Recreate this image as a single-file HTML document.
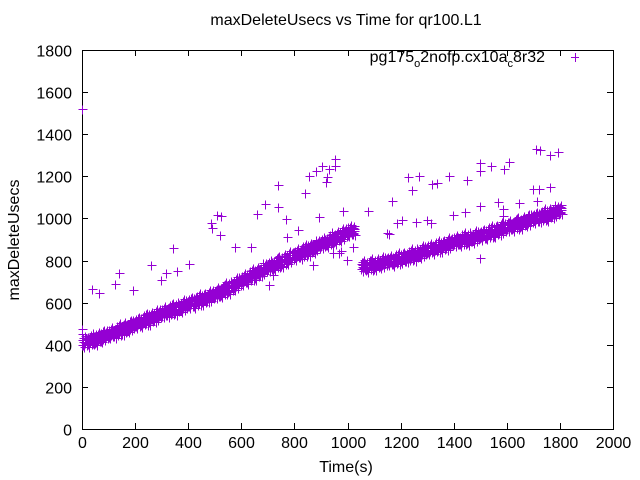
<!DOCTYPE html>
<html><head><meta charset="utf-8"><style>
html,body{margin:0;padding:0;background:#fff;}
svg{display:block;font-family:"Liberation Sans",sans-serif;}
</style></head><body>
<svg id="chart" width="640" height="480" viewBox="0 0 640 480" xmlns="http://www.w3.org/2000/svg">
<rect x="0" y="0" width="640" height="480" fill="#fff"/>
<text x="346" y="25" font-size="16" text-anchor="middle">maxDeleteUsecs vs Time for qr100.L1</text>
<text x="346" y="472" font-size="16" text-anchor="middle">Time(s)</text>
<text transform="translate(19,240) rotate(-90)" font-size="16" text-anchor="middle">maxDeleteUsecs</text>
<g id="axes"></g>
<g id="points"></g>
<g>
<text x="545" y="62" font-size="16" text-anchor="end">pg175<tspan font-size="11" dy="5">o</tspan><tspan dy="-5">2nofp.cx10a</tspan><tspan font-size="11" dy="5">c</tspan><tspan dy="-5">8r32</tspan></text>
<path d="M571 57.5h8M575.5 53v9" stroke="#9400d3" stroke-width="1"/>
</g>
</svg>
<script>
const xTicks=[0,200,400,600,800,1000,1200,1400,1600,1800,2000];
const yTicks=[0,200,400,600,800,1000,1200,1400,1600,1800];
const timesA=[];for(let t=0;t<=1020;t+=10)timesA.push(t);
const timesB=[];for(let t=1050;t<=1800;t+=10)timesB.push(t);
const seg1Upper=[424,434,427,439,450,441,452,446,464,461,
464,475,469,482,494,486,498,493,512,510,
514,525,519,532,544,536,548,543,562,560,
564,575,568,581,592,584,595,590,608,606,
609,620,613,626,637,629,640,635,653,651,
654,667,662,677,690,684,697,694,714,714,
719,732,727,742,755,749,762,759,779,779,
784,796,790,804,816,809,821,817,836,835,
839,851,845,859,871,864,876,872,891,890,
894,906,900,914,926,919,931,927,946,945,
949,961,955];
const seg1Lower=[398,407,399,412,410,408,425,420,429,440,
438,448,441,455,454,453,471,467,477,489,
488,498,491,505,504,503,521,517,527,539,
538,548,540,554,552,551,568,564,573,585,
583,593,585,599,597,596,613,609,618,630,
628,640,634,650,650,651,670,668,679,693,
693,705,699,715,715,716,735,733,744,758,
758,769,762,777,776,776,794,791,801,814,
813,824,817,832,831,831,849,846,856,869,
868,879,872,887,886,886,904,901,911,924,
923,934,927];
const seg2Upper=[784,793,784,795,805,794,804,797,813,809,811,819,811,822,831,
824,834,827,839,850,841,852,846,864,861,
864,874,867,879,890,881,892,886,904,901,
904,913,905,916,926,916,926,919,936,932,
934,944,937,949,960,951,962,956,974,971,
974,984,977,989,1000,991,1002,996,1014,1011,
1014,1024,1017,1029,1040,1031,1042,1036,1054,1051,1054];
const seg2Lower=[758,766,756,768,765,761,777,771,778,788,785,792,783,795,791,
798,807,799,812,810,808,825,820,829,840,
838,847,840,852,850,848,865,860,869,880,
878,886,877,889,886,883,899,893,901,911,
908,917,909,922,920,918,935,930,939,950,
948,957,949,962,960,958,975,970,979,990,
988,997,989,1002,1000,998,1015,1010,1019,1030,1028];
const outlierTimes=[0,0,0,38,64,140,125,193,260,297,317,343,358,403,485,490,508,523,520,576,636,659,689,738,738,768,772,813,840,855,881,904,919,923,930,953,953,893,983,704,870,998,968,947,974,1021,720,
1077,1149,1155,1167,1186,1205,1258,1299,1314,1228,1269,1243,1318,1337,1382,1397,1442,1450,1499,1499,1499,1540,1567,1586,1586,1589,1608,1646,1699,1721,1763,1710,1725,1763,1793,1713,1499];
const outlierValues=[1520,475,450,665,646,741,689,660,779,708,741,860,750,784,978,955,1016,1011,921,864,864,1021,1068,1159,1054,997,912,945,1121,1201,1225,1249,1173,1197,1235,1282,1249,1007,1035,684,779,803,836,836,845,864,731,
1035,931,926,1083,978,993,983,993,978,1197,1201,1135,1163,1168,1201,1016,1031,1183,1059,1263,1225,1249,1078,1045,1011,1235,1268,1073,1140,1140,1149,1330,1325,1301,1315,1083,812];

const L=82,R=613,T=50,B=429;
const xs=v=>L+v/2000*(R-L);
const ys=v=>B-v/1800*(B-T);
const NS="http://www.w3.org/2000/svg";
const axes=document.getElementById('axes');
const pts=document.getElementById('points');
function mk(tag,attrs,parent){const e=document.createElementNS(NS,tag);for(const k in attrs)e.setAttribute(k,attrs[k]);parent.appendChild(e);return e;}
const frame=mk('rect',{x:L+0.5,y:T+0.5,width:R-L,height:B-T,fill:'none',stroke:'#000','stroke-width':1},axes);


xTicks.forEach(v=>{
  const x=Math.round(xs(v))+0.5;
  const tk=mk('path',{d:`M${x} ${B}v-6M${x} ${T}v6`,stroke:'#000','stroke-width':1},axes);
  
  
  const lb=mk('text',{x:x,y:B+19,'font-size':16,'text-anchor':'middle'},axes);
  lb.textContent=v;
  
  
});
yTicks.forEach(v=>{
  const y=Math.round(ys(v))+0.5;
  const tk=mk('path',{d:`M${L} ${y}h6M${R} ${y}h-6`,stroke:'#000','stroke-width':1},axes);
  
  
  const lb=mk('text',{x:L-10,y:y+6,'font-size':16,'text-anchor':'end'},axes);
  lb.textContent=v;
  
  
});
let d='';
function add(t,v){const x=Math.round(xs(t))+0.5,y=Math.round(ys(v))+0.5;d+=`M${x-4} ${y}h9M${x} ${y-4}v9`;}
timesA.forEach((t,i)=>{const u=seg1Upper[i],l=seg1Lower[i],m=(u+l)/2;add(t,u);add(t,l);add(t+5,m);add(t+3,u+8);add(t+7,l-8);add(t+5,m+10);add(t+2,m-10);});
timesB.forEach((t,i)=>{const u=seg2Upper[i],l=seg2Lower[i],m=(u+l)/2;add(t,u);add(t,l);add(t+5,m);add(t+3,u+8);add(t+7,l-8);add(t+5,m+10);add(t+2,m-10);});
outlierTimes.forEach((t,i)=>add(t,outlierValues[i]));
const p=mk('path',{d:d,stroke:'#9400d3','stroke-width':1,fill:'none'},pts);


</script>
</body></html>
